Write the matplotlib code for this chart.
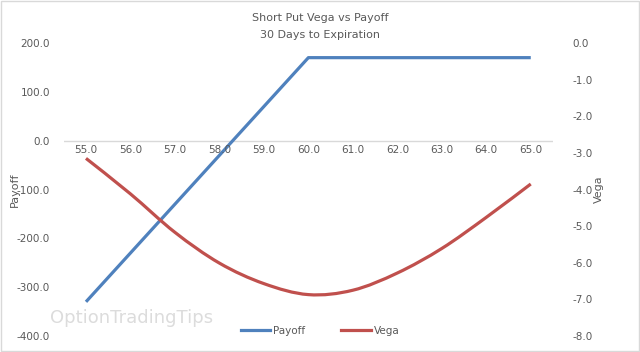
import matplotlib
matplotlib.use("Agg")
import matplotlib.pyplot as plt
from matplotlib.lines import Line2D
from matplotlib.path import Path
from matplotlib.patches import PathPatch, Rectangle

# chart data
prices = [55.0, 56.0, 57.0, 58.0, 59.0, 60.0, 61.0, 62.0, 63.0, 64.0, 65.0]
payoff = [-330, -230, -130, -30, 70, 170, 170, 170, 170, 170, 170]
vega = [-3.15, -4.12, -5.17, -6.01, -6.57, -6.87, -6.75, -6.28, -5.61, -4.76, -3.85]
price_labels = ["%.1f" % p for p in prices]

BLUE = "#4F81BD"
RED = "#C0504D"
GREY = "#595959"


def smooth_path(xs, ys, t=1 / 6):
    # Excel-style smoothed line: Catmull-Rom segments drawn as cubic beziers
    verts = [(xs[0], ys[0])]
    codes = [Path.MOVETO]
    n = len(xs)
    for i in range(n - 1):
        x0, y0 = (xs[i - 1], ys[i - 1]) if i > 0 else (xs[i], ys[i])
        x1, y1 = xs[i], ys[i]
        x2, y2 = xs[i + 1], ys[i + 1]
        x3, y3 = (xs[i + 2], ys[i + 2]) if i + 2 < n else (x2, y2)
        verts += [(x1 + (x2 - x0) * t, y1 + (y2 - y0) * t),
                  (x2 - (x3 - x1) * t, y2 - (y3 - y1) * t),
                  (x2, y2)]
        codes += [Path.CURVE4] * 3
    return Path(verts, codes)


fig = plt.figure(figsize=(6.4, 3.52), dpi=100)
ax = fig.add_axes([63.75 / 640, 16 / 352, (553 - 63.75) / 640, 293 / 352])
ax2 = ax.twinx()

x = list(range(len(prices)))
ax.plot(x, payoff, color=BLUE, lw=2.3, solid_capstyle='butt', zorder=3)
ax2.add_patch(PathPatch(smooth_path(x, vega), facecolor='none', edgecolor=RED,
                        lw=2.3, capstyle='butt', zorder=3))

ax.set_xlim(-0.5, len(prices) - 0.5)
ax.set_ylim(-400, 200)
ax.set_yticks(range(-400, 201, 100))
ax.set_yticklabels(["%.1f" % v for v in range(-400, 201, 100)])
ax2.set_ylim(-8, 0)
ax2.set_yticks(range(-8, 1))
ax2.set_yticklabels(["%.1f" % v for v in range(-8, 1)])

# category axis sits at payoff = 0, labels just beneath it
ax.axhline(0, color="#D9D9D9", lw=1, zorder=1)
ax.set_xticks([])
for xi, lab in zip(x, price_labels):
    ax.text(xi, -9, lab, ha='center', va='top', fontsize=7.5, color=GREY)

ax.tick_params(axis='y', length=0, pad=10, labelsize=7.5, colors=GREY)
ax2.tick_params(axis='y', length=0, pad=14, labelsize=7.5, colors=GREY)
for a in (ax, ax2):
    for s in a.spines.values():
        s.set_visible(False)

ax.set_ylabel("Payoff", fontsize=8, color=GREY, labelpad=-2)
ax2.set_ylabel("Vega", fontsize=8, color=GREY, rotation=90, labelpad=1)

fig.text(0.5, 1 - 18 / 352, "Short Put Vega vs Payoff", ha='center', va='center', fontsize=8, color=GREY)
fig.text(0.5, 1 - 35 / 352, "30 Days to Expiration", ha='center', va='center', fontsize=8, color=GREY)

# watermark
fig.text(50 / 640, 1 - 318 / 352, "OptionTradingTips", fontsize=13, color="#DCDCDC",
         va='center', ha='left', zorder=0)

handles = [Line2D([], [], color=BLUE, lw=2.3), Line2D([], [], color=RED, lw=2.3)]
fig.legend(handles, ["Payoff", "Vega"], loc='center', bbox_to_anchor=(0.5, 1 - 331 / 352),
           ncol=2, frameon=False, fontsize=7.5, handlelength=2.8, columnspacing=3.5,
           handletextpad=0.3, labelcolor=GREY)

# light border around the chart
fig.patches.append(Rectangle((0.001, 0.002), 0.997, 0.995, transform=fig.transFigure,
                             fill=False, edgecolor="#D9D9D9", lw=1))

fig.savefig("out.png", dpi=100)
